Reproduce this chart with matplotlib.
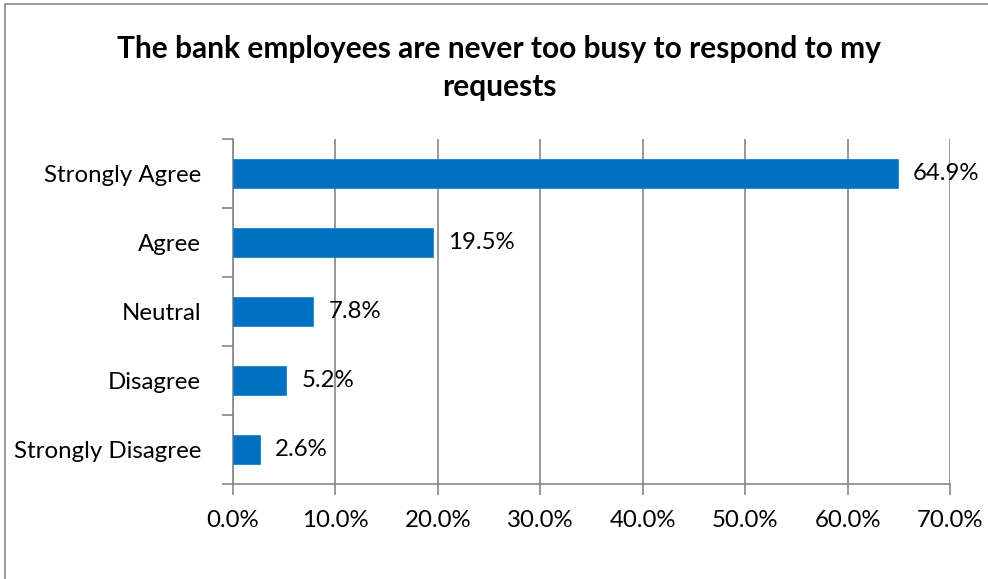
import matplotlib
matplotlib.use("Agg")
import matplotlib.pyplot as plt
from matplotlib.patches import Rectangle
from matplotlib.ticker import FuncFormatter, MultipleLocator

categories = ["Strongly Agree", "Agree", "Neutral", "Disagree", "Strongly Disagree"]
values = [64.9, 19.5, 7.8, 5.2, 2.6]
title = "The bank employees are never too busy to respond to my\nrequests"

plt.rcParams["font.family"] = ["Lato", "DejaVu Sans"]

W, H = 988, 579
fig = plt.figure(figsize=(W / 100, H / 100), dpi=100)
fig.patch.set_facecolor("white")

# chart frame (only top and left edges fall inside the canvas)
fig.patches.append(Rectangle((5 / W, -0.05), 1.1, 1 - 4 / H + 0.05,
                             transform=fig.transFigure, fill=False,
                             edgecolor="#868686", linewidth=1.2))

ax = fig.add_axes([233 / W, 1 - 484 / H, (950 - 233) / W, (484 - 139) / H])

grey = "#868686"
fs = 17.3
ypos = list(range(len(categories)))
ax.barh(ypos, values, height=0.41, color="#0070C0", edgecolor="#1a82cc",
        linewidth=0.6, zorder=3)
ax.set_yticks(ypos)
ax.set_yticklabels(categories)
ax.set_ylim(len(categories) - 0.5, -0.5)
ax.set_xlim(0, 70)
ax.xaxis.set_major_locator(MultipleLocator(10))
ax.xaxis.set_major_formatter(FuncFormatter(lambda v, p: f"{v:.1f}%"))

for y, v in zip(ypos, values):
    ax.text(v + 1.5, y, f"{v:.1f}%", va="center", ha="left", fontsize=fs,
            color="black", zorder=4)

ax.grid(axis="x", color=grey, linewidth=1.2, zorder=0)
for s in ("top", "right"):
    ax.spines[s].set_visible(False)
for s in ("left", "bottom"):
    ax.spines[s].set_color(grey)
    ax.spines[s].set_linewidth(1.2)

# category boundary ticks on the y axis
ax.set_yticks([i - 0.5 for i in range(len(categories) + 1)], minor=True)
ax.tick_params(axis="y", which="major", length=0, labelsize=fs, pad=23)
ax.tick_params(axis="y", which="minor", length=8, width=1.2, color=grey,
               direction="out")
ax.tick_params(axis="x", length=8, width=1.2, color=grey, labelsize=fs,
               pad=11)

fig.text(0.505, 1 - 68 / H, title, ha="center", va="center", fontsize=21.5,
         fontweight="bold", linespacing=1.4)

fig.savefig("out.png", dpi=100)
